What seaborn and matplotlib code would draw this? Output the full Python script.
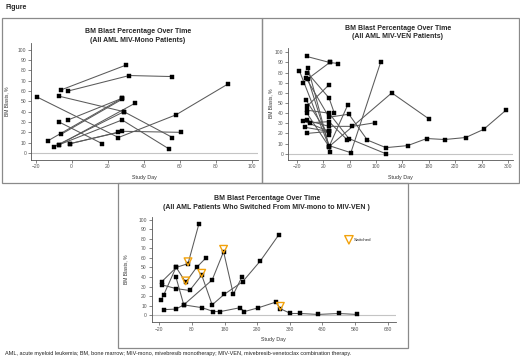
import numpy as np
import pandas as pd
import matplotlib
matplotlib.use("Agg")
import matplotlib.pyplot as plt
from matplotlib.patches import Rectangle
import seaborn as sns

# --- Datos (dia de estudio, % blastos en MO) ---
mono_days = [
    [-6, 30], [-2, 32, 56], [-19, 26, 58, 87], [-7, 29, 56], [-13, 28],
    [-6, 28], [-2, 28], [-7, 17], [-10, 29], [-7, 35], [-7, 28, 54],
    [-1, 26], [-1, 28, 61],
]
mono_blasts = [
    [61, 85], [60, 75, 74], [54, 15, 37, 67], [55, 40, 15], [12, 53],
    [18, 52], [32, 53], [30, 9], [6, 40], [8, 48], [8, 32, 4],
    [9, 20], [9, 21, 20],
]

ven_days = [
    [-5, 30, 43], [-11, 30], [-16, 29, 124, 181], [-3, 31], [-4, 29, 37],
    [-6, 29, 59, 87, 115, 148, 177, 204, 236, 263, 297],
    [-3, 29, 62, 107], [-6, 29], [-4, 29], [-5, 29, 59, 115],
    [-5, 29, 57], [-11, 29], [-5, 29, 64, 99], [0, 29, 56], [-7, 29], [-5, 29],
]
ven_blasts = [
    [96, 90, 89], [70, 90], [82, 7, 60, 34], [85, 2], [80, 55, 40],
    [75, 36, 39, 13.5, 6, 8, 15, 14, 16, 24, 43],
    [74, 8, 1, 90], [53, 18], [47, 68], [43, 40, 15, 0],
    [40.5, 7, 47.7], [32.6, 22], [33, 27, 27, 30.6], [30.6, 31.6, 14], [26, 22], [20, 22],
]

switch_days = [
    [-14, -7, 31, 68, 101],
    [-13, 32, 61, 94, 123],
    [-13, 31, 73, 110, 142, 179, 235, 290, 346],
    [31, 55, 142, 177, 207, 233],
    [-6, 31, 55, 112, 146, 167, 227, 241, 284, 338, 351, 382, 412, 467, 530, 585],
]
switch_blasts = [
    [16, 21, 50, 54, 95],
    [35, 50, 34.5, 50, 60],
    [32, 28, 26, 42, 11, 22, 35, 57, 84],
    [40, 11, 37, 66.5, 22, 40],
    [6, 6.6, 11, 8, 4, 4, 8, 4, 8, 14, 7, 2, 2, 1, 2, 1],
]
switched_day = [61, 68, 110, 177, 351]
switched_blast = [36, 56, 44, 69, 9.5]

mono_xticks = list(range(-20, 101, 20))
ven_xticks = list(range(-20, 301, 40))
switch_xticks = list(range(-20, 681, 100))


def to_long(days, blasts):
    rows = []
    for pid, (d, b) in enumerate(zip(days, blasts)):
        for x, y in zip(d, b):
            rows.append({"pid": pid, "day": x, "blast": y})
    return pd.DataFrame(rows)


sns.set_style("white")
plt.rcParams["font.family"] = ["Liberation Sans", "DejaVu Sans"]

W, H = 520, 361
fig = plt.figure(figsize=(W / 100, H / 100), dpi=100)


def px_axes(x0, y0, x1, y1):
    return fig.add_axes([x0 / W, 1 - y1 / H, (x1 - x0) / W, (y1 - y0) / H])


def draw_panel(ax, df, xlim, ylim, xticks, title, tx, ty, ylab_x):
    ax.axhline(0, color="#c4c4c4", lw=0.8, zorder=0)
    sns.lineplot(data=df, x="day", y="blast", units="pid", estimator=None,
                 sort=False, color="#5a5a5a", lw=0.75, legend=False, ax=ax)
    # puntos negros encima de las lineas
    sns.scatterplot(data=df, x="day", y="blast", marker="s", s=5,
                    color="black", edgecolor="black", linewidth=0.3,
                    legend=False, zorder=4, ax=ax)
    ax.set_xlim(*xlim)
    ax.set_ylim(*ylim)
    ax.set_xticks(xticks)
    ax.set_yticks(range(0, 101, 10))
    ax.tick_params(axis="both", labelsize=3.6, length=2, width=0.5,
                   colors="#555", pad=1.5, direction="out", bottom=True, left=True)
    for s in ["top", "right"]:
        ax.spines[s].set_visible(False)
    for s in ["left", "bottom"]:
        ax.spines[s].set_color("#555")
        ax.spines[s].set_linewidth(0.6)
    ax.set_xlabel("Study Day", fontsize=3.9, color="#333")
    ax.set_ylabel("BM Blasts, %", fontsize=3.6, color="#333")
    ax.xaxis.set_label_coords(0.5, -0.135)
    ax.yaxis.set_label_coords(ylab_x, 0.5)
    l1, l2 = title
    fig.text(tx / W, 1 - ty / H, l1, ha="center", va="center",
             fontsize=5.0, fontweight="bold")
    fig.text(tx / W, 1 - (ty + 8.5) / H, l2, ha="center", va="center",
             fontsize=5.0, fontweight="bold")


# Panel 1: MIV-mono
ax1 = px_axes(31, 43, 258, 159.5)
draw_panel(ax1, to_long(mono_days, mono_blasts), (-22.6, 103.5), (-6.3, 106.5),
           mono_xticks, ("BM Blast Percentage Over Time",
                         "(All AML MIV-Mono Patients)"), 138, 31.5, -0.095)

# Panel 2: MIV-VEN
ax2 = px_axes(288.3, 48, 513.3, 159.5)
draw_panel(ax2, to_long(ven_days, ven_blasts), (-32.7, 308), (-5.7, 104.3),
           ven_xticks, ("BM Blast Percentage Over Time",
                        "(All AML MIV-VEN Patients)"), 398, 28.3, -0.065)

# Panel 3: switched
ax3 = px_axes(151.7, 216.7, 396, 322.3)
draw_panel(ax3, to_long(switch_days, switch_blasts), (-43.3, 705.4), (-7.2, 103),
           switch_xticks, ("BM Blast Percentage Over Time",
                           "(All AML Patients Who Switched From MIV-mono to MIV-VEN )"),
           266.7, 199, -0.095)
sns.scatterplot(x=switched_day, y=switched_blast, marker="v", s=30,
                facecolors="none", edgecolor="#f2a20c", linewidth=1.0,
                label="Switched", zorder=5, ax=ax3)
ax3.legend(loc="center left", bbox_to_anchor=(0.78, 0.78), frameon=False,
           fontsize=3.2, handletextpad=0.2, borderpad=0, markerscale=1.1)

# marcos de los paneles
for (x0, y0, x1, y1) in [(2, 18, 262, 183), (262, 18, 518.5, 183), (118, 183, 408, 348)]:
    fig.add_artist(Rectangle((x0 / W, 1 - y1 / H), (x1 - x0) / W, (y1 - y0) / H,
                             transform=fig.transFigure, fill=False,
                             edgecolor="#8a8a8a", lw=0.9))

fig.text(5 / W, 1 - 7.5 / H, "Figure", fontsize=5, fontweight="bold", va="center")
fig.text(5 / W, 1 - 353.5 / H,
         "AML, acute myeloid leukemia; BM, bone marrow; MIV-mono, mivebresib monotherapy; "
         "MIV-VEN, mivebresib-venetoclax combination therapy.",
         fontsize=4.0, va="center", color="#222")

fig.savefig("out.png", dpi=100)
